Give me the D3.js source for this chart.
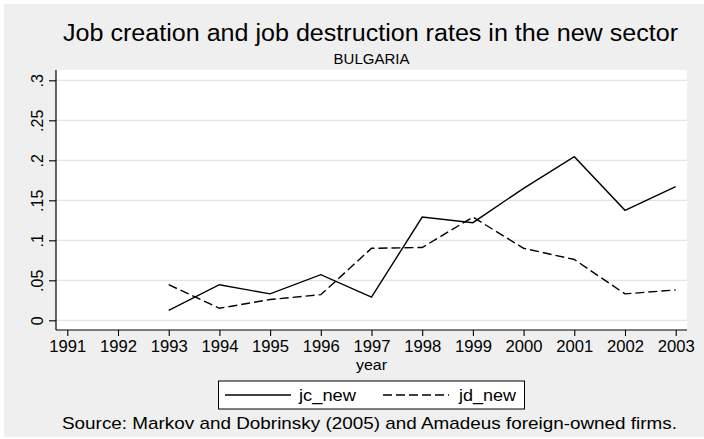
<!DOCTYPE html>
<html>
<head>
<meta charset="utf-8">
<script src="https://cdn.jsdelivr.net/npm/d3@7"></script>
<style>
  html, body { margin: 0; padding: 0; background: #ffffff; }
  svg { display: block; font-family: Arial, "Liberation Sans", sans-serif; }
</style>
</head>
<body>
<svg id="chart" width="704" height="439"></svg>
<script>
const years = [1993, 1994, 1995, 1996, 1997, 1998, 1999, 2000, 2001, 2002, 2003];
const jcNew = [0.0125, 0.0445, 0.033, 0.057, 0.029, 0.129, 0.122, 0.165, 0.2045, 0.1375, 0.167];
const jdNew = [0.0445, 0.015, 0.026, 0.032, 0.090, 0.091, 0.129, 0.090, 0.076, 0.033, 0.038];
const xTicks = [1991, 1992, 1993, 1994, 1995, 1996, 1997, 1998, 1999, 2000, 2001, 2002, 2003];
const yTicks = [0, 0.05, 0.1, 0.15, 0.2, 0.25, 0.3];
const yTickLabels = ["0", ".05", ".1", ".15", ".2", ".25", ".3"];
const seriesNames = ["jc_new", "jd_new"];
const titleText = "Job creation and job destruction rates in the new sector";
const subtitleText = "BULGARIA";
const xTitle = "year";
const noteText = "Source: Markov and Dobrinsky (2005) and Amadeus foreign-owned firms.";

const svg = d3.select("#chart");
const W = 704, H = 439;
const plot = { left: 56, right: 687, top: 70, bottom: 330 };

svg.append("rect").attr("x", 4).attr("y", 4).attr("width", W - 4).attr("height", H - 6).attr("fill", "#efefef");
svg.append("rect").attr("x", plot.left).attr("y", plot.top)
  .attr("width", plot.right - plot.left).attr("height", plot.bottom - plot.top).attr("fill", "#ffffff");

const x = d3.scaleLinear().domain([1991, 2003]).range([67.3, 675.7]);
const y = d3.scaleLinear().domain([0, 0.3]).range([320.3, 80.3]);

// gridlines
svg.append("g").selectAll("line").data(yTicks).join("line")
  .attr("x1", plot.left).attr("x2", plot.right)
  .attr("y1", d => y(d)).attr("y2", d => y(d))
  .attr("stroke", "#e3e3e3").attr("stroke-width", 1.2);

// y axis
const yAxis = d3.axisLeft(y).tickValues(yTicks).tickSize(7).tickPadding(6)
  .tickFormat((d, i) => yTickLabels[i]);
const gy = svg.append("g").attr("transform", `translate(${plot.left},0)`).call(yAxis);
gy.select(".domain").attr("d", `M0,${plot.top}V${plot.bottom}`).attr("stroke", "#000").attr("stroke-width", 1.2);
gy.selectAll(".tick line").attr("stroke", "#000").attr("stroke-width", 1.1);
gy.selectAll(".tick text")
  .attr("font-size", 16).attr("fill", "#000")
  .attr("text-anchor", "middle")
  .attr("x", null).attr("dy", null)
  .attr("transform", "translate(-13,0) rotate(-90)")
  .attr("y", 0);

// x axis
const xAxis = d3.axisBottom(x).tickValues(xTicks).tickSize(6).tickPadding(5).tickFormat(d3.format("d"));
const gx = svg.append("g").attr("transform", `translate(0,${plot.bottom})`).call(xAxis);
gx.select(".domain").attr("d", `M${plot.left},0H${plot.right}`).attr("stroke", "#000").attr("stroke-width", 1.2);
gx.selectAll(".tick line").attr("stroke", "#000").attr("stroke-width", 1.1);
gx.selectAll(".tick text").attr("font-size", 16).attr("fill", "#000")
  .attr("textLength", 37).attr("lengthAdjust", "spacingAndGlyphs");

// lines
const line = d3.line().x((d, i) => x(years[i])).y(d => y(d));
svg.append("path").datum(jcNew).attr("d", line)
  .attr("fill", "none").attr("stroke", "#000").attr("stroke-width", 1.4).attr("stroke-linejoin", "miter");
svg.append("path").datum(jdNew).attr("d", line)
  .attr("fill", "none").attr("stroke", "#000").attr("stroke-width", 1.4).attr("stroke-dasharray", "9,4");

// titles
const cx = (plot.left + plot.right) / 2;
svg.append("text").attr("x", 370.5).attr("y", 41).attr("text-anchor", "middle")
  .attr("font-size", 23).attr("fill", "#000")
  .attr("textLength", 615).attr("lengthAdjust", "spacingAndGlyphs").text(titleText);
svg.append("text").attr("x", cx).attr("y", 64).attr("text-anchor", "middle")
  .attr("font-size", 15).attr("fill", "#000").text(subtitleText);
svg.append("text").attr("x", cx).attr("y", 370).attr("text-anchor", "middle")
  .attr("font-size", 15).attr("fill", "#000")
  .attr("textLength", 31).attr("lengthAdjust", "spacingAndGlyphs").text(xTitle);

// legend
const lg = svg.append("g");
lg.append("rect").attr("x", 218.5).attr("y", 381).attr("width", 306).attr("height", 28)
  .attr("fill", "#fff").attr("stroke", "#000").attr("stroke-width", 1);
const legendItems = [
  { name: seriesNames[0], x0: 225, x1: 291, tx: 299, dash: null },
  { name: seriesNames[1], x0: 383, x1: 449, tx: 459, dash: "9,4" }
];
legendItems.forEach(it => {
  lg.append("line").attr("x1", it.x0).attr("x2", it.x1).attr("y1", 395).attr("y2", 395)
    .attr("stroke", "#000").attr("stroke-width", 1.4).attr("stroke-dasharray", it.dash);
  lg.append("text").attr("x", it.tx).attr("y", 401).attr("font-size", 17).attr("fill", "#000")
    .attr("textLength", 57).attr("lengthAdjust", "spacingAndGlyphs").text(it.name);
});

svg.append("text").attr("x", 369.5).attr("y", 429).attr("text-anchor", "middle")
  .attr("font-size", 17).attr("fill", "#000")
  .attr("textLength", 615).attr("lengthAdjust", "spacingAndGlyphs").text(noteText);
</script>
</body>
</html>
